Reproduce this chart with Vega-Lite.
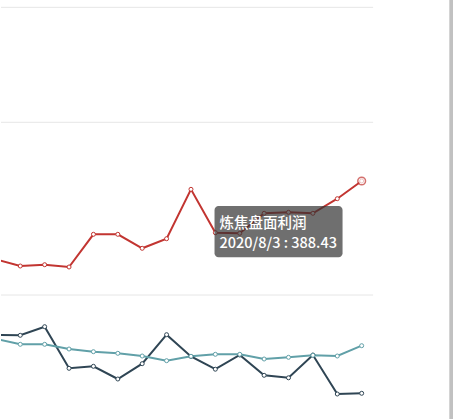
{
  "$schema": "https://vega.github.io/schema/vega-lite/v6.json",
  "width": 453,
  "height": 419,
  "autosize": {"type": "fit", "contains": "padding"},
  "padding": 0,
  "background": "white",
  "config": {"view": {"stroke": null}},
  "datasets": {
    "profit": [
      {"date": "2020-07-25", "value": 222.6},
      {"date": "2020-07-26", "value": 180.8},
      {"date": "2020-07-27", "value": 188.9},
      {"date": "2020-07-28", "value": 174.6},
      {"date": "2020-07-29", "value": 378.4},
      {"date": "2020-07-30", "value": 378.4},
      {"date": "2020-07-31", "value": 291.2},
      {"date": "2020-08-01", "value": 351.0},
      {"date": "2020-08-02", "value": 659.0},
      {"date": "2020-08-03", "value": 388.43},
      {"date": "2020-08-04", "value": 384.7},
      {"date": "2020-08-05", "value": 509.4},
      {"date": "2020-08-06", "value": 515.6},
      {"date": "2020-08-07", "value": 509.4},
      {"date": "2020-08-08", "value": 600.4},
      {"date": "2020-08-09", "value": 710.8}
    ],
    "grid": [
      {"start": "2020-07-25T05:02:00Z", "end": "2020-08-09T11:17:00Z", "level": 1793.7},
      {"start": "2020-07-25T05:02:00Z", "end": "2020-08-09T11:17:00Z", "level": 1076.8},
      {"start": "2020-07-25T05:02:00Z", "end": "2020-08-09T11:17:00Z", "level": 0}
    ],
    "tip": [
      {"start": "2020-08-02T23:11:00Z", "end": "2020-08-08T05:11:00Z", "top": 554.9, "bottom": 235.1, "line": 420.8}
    ],
    "spread": [
      {"date": "2020-07-25", "series": "焦炭盘面", "value": 230.0},
      {"date": "2020-07-26", "series": "焦炭盘面", "value": 229.4},
      {"date": "2020-07-27", "series": "焦炭盘面", "value": 246.6},
      {"date": "2020-07-28", "series": "焦炭盘面", "value": 163.4},
      {"date": "2020-07-29", "series": "焦炭盘面", "value": 167.4},
      {"date": "2020-07-30", "series": "焦炭盘面", "value": 142.0},
      {"date": "2020-07-31", "series": "焦炭盘面", "value": 172.6},
      {"date": "2020-08-01", "series": "焦炭盘面", "value": 230.6},
      {"date": "2020-08-02", "series": "焦炭盘面", "value": 187.0},
      {"date": "2020-08-03", "series": "焦炭盘面", "value": 161.6},
      {"date": "2020-08-04", "series": "焦炭盘面", "value": 190.0},
      {"date": "2020-08-05", "series": "焦炭盘面", "value": 149.4},
      {"date": "2020-08-06", "series": "焦炭盘面", "value": 144.4},
      {"date": "2020-08-07", "series": "焦炭盘面", "value": 190.0},
      {"date": "2020-08-08", "series": "焦炭盘面", "value": 112.0},
      {"date": "2020-08-09", "series": "焦炭盘面", "value": 113.4},
      {"date": "2020-07-25", "series": "焦煤盘面", "value": 222.2},
      {"date": "2020-07-26", "series": "焦煤盘面", "value": 211.4},
      {"date": "2020-07-27", "series": "焦煤盘面", "value": 211.4},
      {"date": "2020-07-28", "series": "焦煤盘面", "value": 202.0},
      {"date": "2020-07-29", "series": "焦煤盘面", "value": 196.6},
      {"date": "2020-07-30", "series": "焦煤盘面", "value": 193.4},
      {"date": "2020-07-31", "series": "焦煤盘面", "value": 188.0},
      {"date": "2020-08-01", "series": "焦煤盘面", "value": 178.6},
      {"date": "2020-08-02", "series": "焦煤盘面", "value": 187.4},
      {"date": "2020-08-03", "series": "焦煤盘面", "value": 191.4},
      {"date": "2020-08-04", "series": "焦煤盘面", "value": 191.4},
      {"date": "2020-08-05", "series": "焦煤盘面", "value": 182.0},
      {"date": "2020-08-06", "series": "焦煤盘面", "value": 185.4},
      {"date": "2020-08-07", "series": "焦煤盘面", "value": 189.4},
      {"date": "2020-08-08", "series": "焦煤盘面", "value": 188.0},
      {"date": "2020-08-09", "series": "焦煤盘面", "value": 208.6}
    ]
  },
  "layer": [
    {
      "layer": [
        {
          "data": {"name": "grid"},
          "mark": {"type": "rule", "color": "#e6e6e6", "strokeWidth": 1},
          "encoding": {
            "x": {
              "field": "start",
              "type": "temporal",
              "axis": null,
              "scale": {
                "type": "utc",
                "domain": [
                  {"year": 2020, "month": 7, "date": 25, "hours": 5, "minutes": 2, "utc": true},
                  {"year": 2020, "month": 8, "date": 12, "hours": 17, "minutes": 53, "utc": true}
                ]
              }
            },
            "x2": {"field": "end"},
            "y": {
              "field": "level",
              "type": "quantitative",
              "axis": null,
              "scale": {"domain": [-773.1, 1839.3], "zero": false, "nice": false}
            }
          }
        },
        {
          "data": {"name": "profit"},
          "mark": {
            "type": "line",
            "color": "#c23531",
            "strokeWidth": 2,
            "clip": true,
            "point": {"filled": true, "fill": "white", "stroke": "#c23531", "strokeWidth": 1, "size": 16}
          },
          "encoding": {
            "x": {"field": "date", "type": "temporal"},
            "y": {"field": "value", "type": "quantitative"}
          }
        },
        {
          "data": {"name": "profit"},
          "transform": [{"filter": "time(datum.date) === utc(2020, 7, 9)"}],
          "mark": {"type": "point", "filled": true, "fill": "white", "stroke": "#c23531", "strokeWidth": 1.5, "size": 60, "clip": true},
          "encoding": {
            "x": {"field": "date", "type": "temporal"},
            "y": {"field": "value", "type": "quantitative"}
          }
        },
        {
          "data": {"name": "tip"},
          "mark": {"type": "rect", "fill": "#323232", "opacity": 0.7, "cornerRadius": 4},
          "encoding": {
            "x": {"field": "start", "type": "temporal"},
            "x2": {"field": "end"},
            "y": {"field": "top", "type": "quantitative"},
            "y2": {"field": "bottom"}
          }
        },
        {
          "data": {"name": "tip"},
          "mark": {
            "type": "text",
            "text": ["炼焦盘面利润", "2020/8/3 : 388.43"],
            "align": "left",
            "baseline": "alphabetic",
            "dx": 5,
            "lineHeight": 20,
            "font": "Noto Sans CJK SC",
            "fontSize": 14.5,
            "fontWeight": 500,
            "color": "white"
          },
          "encoding": {
            "x": {"field": "start", "type": "temporal"},
            "y": {"field": "line", "type": "quantitative"}
          }
        }
      ]
    },
    {
      "data": {"name": "spread"},
      "mark": {
        "type": "line",
        "strokeWidth": 2,
        "clip": true,
        "point": {"filled": true, "fill": "white", "strokeWidth": 1, "size": 16}
      },
      "encoding": {
        "x": {"field": "date", "type": "temporal"},
        "y": {
          "field": "value",
          "type": "quantitative",
          "axis": null,
          "scale": {"domain": [62, 900], "zero": false, "nice": false}
        },
        "color": {
          "field": "series",
          "type": "nominal",
          "legend": null,
          "scale": {"domain": ["焦炭盘面", "焦煤盘面"], "range": ["#2f4554", "#61a0a8"]}
        },
        "stroke": {
          "field": "series",
          "type": "nominal",
          "legend": null,
          "scale": {"domain": ["焦炭盘面", "焦煤盘面"], "range": ["#2f4554", "#61a0a8"]}
        }
      }
    },
    {
      "data": {"values": [{"from": "2020-08-12T14:15:00Z", "to": "2020-08-12T17:53:00Z"}]},
      "mark": {"type": "rect", "fill": "#c1c1c1"},
      "encoding": {
        "x": {"field": "from", "type": "temporal"},
        "x2": {"field": "to"}
      }
    }
  ],
  "resolve": {"scale": {"y": "independent"}}
}
